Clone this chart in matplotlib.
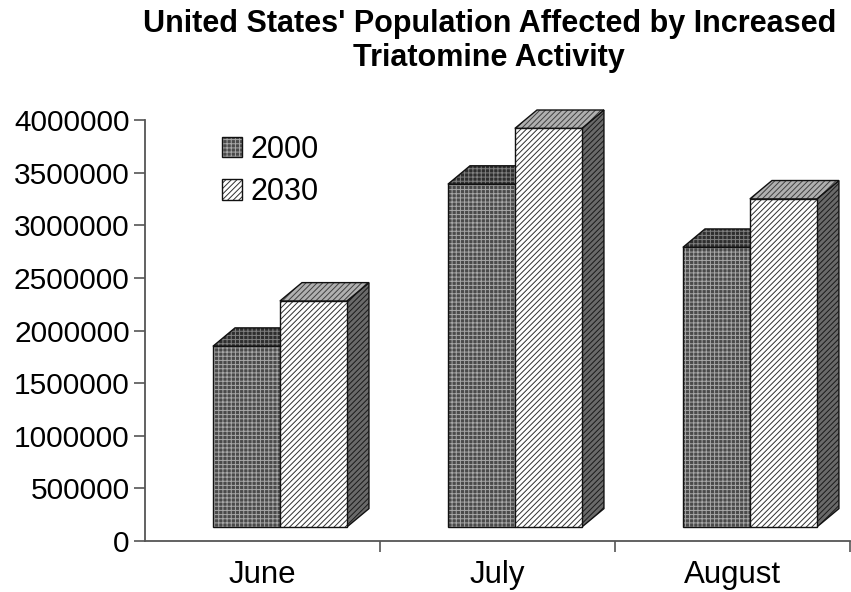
import matplotlib
matplotlib.use('Agg')
import matplotlib.pyplot as plt
from matplotlib.patches import Patch, Polygon

# Population counts per month
months = ['June', 'July', 'August']
years = ['2000', '2030']
pop_2000 = [1850000, 3390000, 2790000]
pop_2030 = [2280000, 3920000, 3250000]
yticks = [0, 500000, 1000000, 1500000, 2000000, 2500000, 3000000, 3500000, 4000000]

plt.rcParams['font.family'] = ['Liberation Sans', 'DejaVu Sans']
plt.rcParams['hatch.linewidth'] = 0.7

# face styles for the two series: (facecolor, hatch colour, hatch)
styles = {
    '2000': {'front': ('#4a4a4a', '#a8a8a8', '++++'),
             'top': ('#2e2e2e', '#808080', '++++'),
             'side': ('#2e2e2e', '#808080', '++++')},
    '2030': {'front': ('#ffffff', '#303030', '//////'),
             'top': ('#b0b0b0', '#404040', '//////'),
             'side': ('#6a6a6a', '#1a1a1a', '//////')},
}

fig = plt.figure(figsize=(8.51, 5.92), dpi=100)
ax = fig.add_axes([0.1704, 0.0861, 0.8284, 0.7112])
ax.set_xlim(-0.5, 2.5)
ax.set_ylim(0, 4000000)

bar_w = 0.285
shift = 0.074           # bars sit a little right of the category centre (3D offset)
floor = 133000          # front edge of the floor
dx, dy = 0.094, 175000  # depth of each box


def face(pts, style, z):
    fc, hc, hatch = style
    ax.add_patch(Polygon(pts, closed=True, facecolor=fc, edgecolor=hc,
                         hatch=hatch, lw=0, zorder=z, clip_on=False))
    ax.add_patch(Polygon(pts, closed=True, fill=False, edgecolor='#111111',
                         lw=1.0, zorder=z + 0.01, clip_on=False))


def box(x0, v, year, z):
    st = styles[year]
    x1 = x0 + bar_w
    face([(x1, floor), (x1 + dx, floor + dy), (x1 + dx, v + dy), (x1, v)], st['side'], z)
    face([(x0, v), (x1, v), (x1 + dx, v + dy), (x0 + dx, v + dy)], st['top'], z + 0.1)
    fc, hc, hatch = st['front']
    ax.bar(x0, v - floor, bottom=floor, width=bar_w, align='edge', color=fc,
           edgecolor=hc, hatch=hatch, lw=0, zorder=z + 0.2, clip_on=False)
    ax.bar(x0, v - floor, bottom=floor, width=bar_w, align='edge', fill=False,
           edgecolor='#111111', lw=1.0, zorder=z + 0.21, clip_on=False)


for i, m in enumerate(months):
    left = i + shift - bar_w
    box(left, pop_2000[i], '2000', 3 + i)
    box(left + bar_w, pop_2030[i], '2030', 3.5 + i)

# axes styling
for s in ['top', 'right']:
    ax.spines[s].set_visible(False)
for s in ['left', 'bottom']:
    ax.spines[s].set_color('#555555')
    ax.spines[s].set_linewidth(1.3)

ax.set_yticks(yticks)
ax.set_yticklabels([str(t) for t in yticks], fontsize=21.5)
ax.tick_params(axis='y', length=8, width=1.2, color='#555555', pad=3)
ax.set_xticks(range(len(months)))
ax.set_xticklabels(months, fontsize=22.5)
ax.tick_params(axis='x', which='major', length=0, pad=14)
ax.set_xticks([0.5, 1.5, 2.5], minor=True)
ax.tick_params(axis='x', which='minor', length=8, width=1.2, color='#555555')

# legend
handles = []
for y in years:
    fc, hc, hatch = styles[y]['front']
    handles.append((Patch(facecolor=fc, edgecolor=hc, hatch=hatch, lw=0),
                    Patch(fill=False, edgecolor='#111111', lw=1.0)))
ax.legend(handles, years, loc='upper left', bbox_to_anchor=(0.07, 1.03),
          frameon=False, fontsize=22, handlelength=0.65, handleheight=0.65,
          handletextpad=0.3, labelspacing=0.4)

fig.text(0.575, 0.985, "United States' Population Affected by Increased\nTriatomine Activity",
         ha='center', va='top', fontsize=22, fontweight='bold', linespacing=1.2)

fig.savefig('out.png', dpi=100)
